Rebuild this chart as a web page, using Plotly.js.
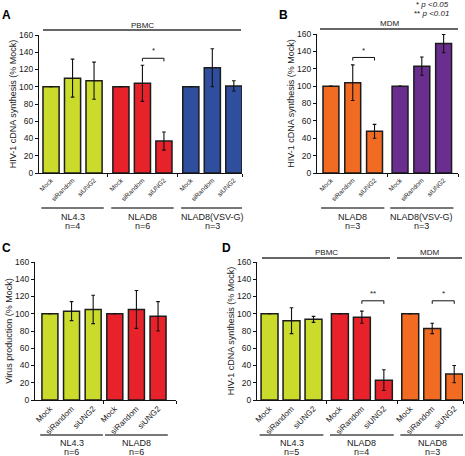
<!DOCTYPE html>
<html><head><meta charset="utf-8">
<script src="https://cdn.plot.ly/plotly-3.0.1.min.js"></script>
<style>html,body{margin:0;padding:0;background:#fff}#chart{width:465px;height:456px}</style>
</head><body><div id="chart"></div>
<script>
// ---------- data ----------
const barLabels = ['Mock', 'siRandom', 'siUNG2'];

const aGroups = ['NL4.3', 'NLAD8', 'NLAD8(VSV-G)'];
const aN = ['n=4', 'n=6', 'n=3'];
const aMeans = [[100, 110, 107], [100, 104, 37], [100, 122, 101]];
const aErrors = [[null, 22, 21.5], [null, 21, 10.5], [null, 22, 6]];

const bGroups = ['NLAD8', 'NLAD8(VSV-G)'];
const bN = ['n=3', 'n=3'];
const bMeans = [[100, 104, 48], [100, 123, 149]];
const bErrors = [[null, 20.5, 8], [null, 10.5, 10.5]];

const cGroups = ['NL4.3', 'NLAD8'];
const cN = ['n=6', 'n=6'];
const cMeans = [[100, 103, 105], [100, 105, 97]];
const cErrors = [[null, 11, 16.5], [null, 22, 17]];

const dGroups = ['NL4.3', 'NLAD8', 'NLAD8'];
const dN = ['n=5', 'n=4', 'n=3'];
const dMeans = [[100, 92, 93.5], [100, 96, 23], [100, 83, 30]];
const dErrors = [[null, 15, 3.5], [null, 7, 12], [null, 6, 10]];

const yTitleSynthesis = 'HIV-1 cDNA synthesis (% Mock)';
const yTitleVirus = 'Virus production (% Mock)';
const pLegend = ['* <i>p &lt;0.05</i>', '** <i>p &lt;0.01</i>'];

// ---------- styles / layout ----------
const GREEN = '#cadb2b', RED = '#e8222a', BLUE = '#2f4e9e', ORANGE = '#f26b23', PURPLE = '#6a2f8e';
const W = 465, H = 456;
const px = x => x / W, py = y => 1 - y / H;
const FONT = 'Liberation Sans, Arial, Helvetica, sans-serif';

const panels = [
  {label: 'A', lab: [6, 14.5], groups: aGroups, n: aN, means: aMeans, errors: aErrors,
   colors: [GREEN, RED, BLUE], gap: 3.25, range: [-0.56, 8.88], bw: 0.75,
   dom: [39, 242, 35, 173], tickFont: 6.5, title: yTitleSynthesis, standoff: 0,
   grpY: [208, 217, 226],
   headers: [{text: 'PBMC', x0: 43, x1: 241, ty: 25, ly: 30}],
   sig: [{g: 1, text: '*', y: 133}]},
  {label: 'B', lab: [283.5, 15], groups: bGroups, n: bN, means: bMeans, errors: bErrors,
   colors: [ORANGE, PURPLE], gap: 3.17, range: [-0.64, 5.83], bw: 0.73,
   dom: [317, 458, 34, 173], tickFont: 6.5, title: yTitleSynthesis, standoff: 0,
   grpY: [208, 217, 226],
   headers: [{text: 'MDM', x0: 320, x1: 458, ty: 24, ly: 29}],
   sig: [{g: 0, text: '*', y: 133}]},
  {label: 'C', lab: [6, 248.5], groups: cGroups, n: cN, means: cMeans, errors: cErrors,
   colors: [GREEN, RED], gap: 3, range: [-0.69, 5.83], bw: 0.74,
   dom: [35, 176, 262, 400], tickFont: 8, title: yTitleVirus, standoff: 0,
   grpY: [435, 443, 452],
   headers: [], sig: []},
  {label: 'D', lab: [226, 248.5], groups: dGroups, n: dN, means: dMeans, errors: dErrors,
   colors: [GREEN, RED, ORANGE], gap: 3.2, range: [-0.57, 8.8], bw: 0.77,
   dom: [257, 463, 262, 400], tickFont: 8, title: yTitleSynthesis, standoff: 0,
   grpY: [435, 443, 452],
   headers: [{text: 'PBMC', x0: 262, x1: 390, ty: 252, ly: 258},
             {text: 'MDM', x0: 397, x1: 462, ty: 252, ly: 258}],
   sig: [{g: 1, text: '**', y: 115}, {g: 2, text: '*', y: 115}]}
];

const traces = [], shapes = [], annotations = [];
const layout = {
  width: W, height: H, margin: {l: 0, r: 0, t: 0, b: 0},
  paper_bgcolor: '#fff', plot_bgcolor: 'rgba(0,0,0,0)',
  font: {family: FONT, color: '#1a1a1a'}, showlegend: false, bargap: 0
};

panels.forEach((p, k) => {
  const ax = k === 0 ? '' : String(k + 1);
  const xref = 'x' + ax, yref = 'y' + ax;
  const xs = [], ys = [], es = [], cs = [], tt = [];
  const pos = (g, i) => g * p.gap + i;
  p.means.forEach((grp, g) => grp.forEach((v, i) => {
    xs.push(pos(g, i)); ys.push(v); es.push(p.errors[g][i]); cs.push(p.colors[g]); tt.push(barLabels[i]);
  }));
  traces.push({
    type: 'bar', x: xs, y: ys, xaxis: xref, yaxis: yref, width: p.bw,
    marker: {color: cs, line: {color: '#1c1c1c', width: 1.5}},
    error_y: {type: 'data', array: es, visible: true, color: '#111', thickness: 1.1, width: 1.8},
    hoverinfo: 'skip', showlegend: false
  });
  const seps = [];
  for (let g = 0; g < p.means.length - 1; g++) seps.push(pos(g, 2) + (p.gap - 2) / 2);
  seps.push(p.range[1]);
  layout['xaxis' + ax] = {
    domain: [px(p.dom[0]), px(p.dom[1])], range: p.range, anchor: yref,
    showline: true, linecolor: '#111', linewidth: 1, ticks: '',
    tickmode: 'array', tickvals: xs, ticktext: tt, tickangle: -45,
    tickfont: {size: p.tickFont, family: FONT, color: '#1a1a1a'},
    showgrid: false, zeroline: false, fixedrange: true, automargin: false,
    minor: {tickmode: 'array', tickvals: seps, ticks: 'outside', ticklen: 3, tickcolor: '#111', tickwidth: 1, showgrid: false}
  };
  layout['yaxis' + ax] = {
    domain: [py(p.dom[3]), py(p.dom[2])], range: [0, 160], dtick: 20, tick0: 0, anchor: xref,
    showline: true, linecolor: '#111', linewidth: 1, ticks: 'outside', ticklen: 3, tickcolor: '#111',
    tickfont: {size: 8.5, family: FONT, color: '#1a1a1a'},
    title: {text: p.title, font: {size: 9, family: FONT, color: '#1a1a1a'}, standoff: p.standoff},
    showgrid: false, zeroline: false, fixedrange: true, automargin: false
  };
  // group lines and labels under the axis
  p.groups.forEach((name, g) => {
    const x0 = Math.max(pos(g, 0) - 0.45, p.range[0]), x1 = Math.min(pos(g, 2) + 0.45, p.range[1]);
    shapes.push({type: 'line', xref: xref, yref: 'paper', x0: x0, x1: x1, y0: py(p.grpY[0]), y1: py(p.grpY[0]),
                 line: {color: '#777', width: 2}});
    annotations.push({xref: xref, yref: 'paper', x: pos(g, 1), y: py(p.grpY[1]), text: name, showarrow: false,
                      xanchor: 'center', yanchor: 'middle', font: {size: 9}});
    annotations.push({xref: xref, yref: 'paper', x: pos(g, 1), y: py(p.grpY[2]), text: p.n[g], showarrow: false,
                      xanchor: 'center', yanchor: 'middle', font: {size: 9}});
  });
  // cell-type headers
  p.headers.forEach(h => {
    shapes.push({type: 'line', xref: 'paper', yref: 'paper', x0: px(h.x0), x1: px(h.x1), y0: py(h.ly), y1: py(h.ly),
                 line: {color: '#333', width: 1.5}});
    annotations.push({xref: 'paper', yref: 'paper', x: px((h.x0 + h.x1) / 2), y: py(h.ty), text: h.text,
                      showarrow: false, xanchor: 'center', yanchor: 'middle', font: {size: 8}});
  });
  // significance brackets
  p.sig.forEach(s => {
    const xa = pos(s.g, 1), xb = pos(s.g, 2), tip = 3.5;
    shapes.push({type: 'path', xref: xref, yref: yref,
                 path: `M${xa},${s.y - tip} L${xa},${s.y} L${xb},${s.y} L${xb},${s.y - tip}`,
                 line: {color: '#111', width: 1}});
    annotations.push({xref: xref, yref: yref, x: (xa + xb) / 2, y: s.y + 1, text: s.text, showarrow: false,
                      xanchor: 'center', yanchor: 'bottom', font: {size: 8}});
  });
  // panel letter
  annotations.push({xref: 'paper', yref: 'paper', x: px(p.lab[0]), y: py(p.lab[1]), text: '<b>' + p.label + '</b>',
                    showarrow: false, xanchor: 'center', yanchor: 'middle', font: {size: 12, color: '#000'}});
});

// p-value legend
pLegend.forEach((t, i) => {
  annotations.push({xref: 'paper', yref: 'paper', x: px(451), y: py(i === 0 ? 5 : 14), text: t, showarrow: false,
                    xanchor: 'right', yanchor: 'middle', font: {size: 8}});
});

layout.shapes = shapes;
layout.annotations = annotations;
Plotly.newPlot('chart', traces, layout, {staticPlot: true, displayModeBar: false});
</script>
</body></html>
